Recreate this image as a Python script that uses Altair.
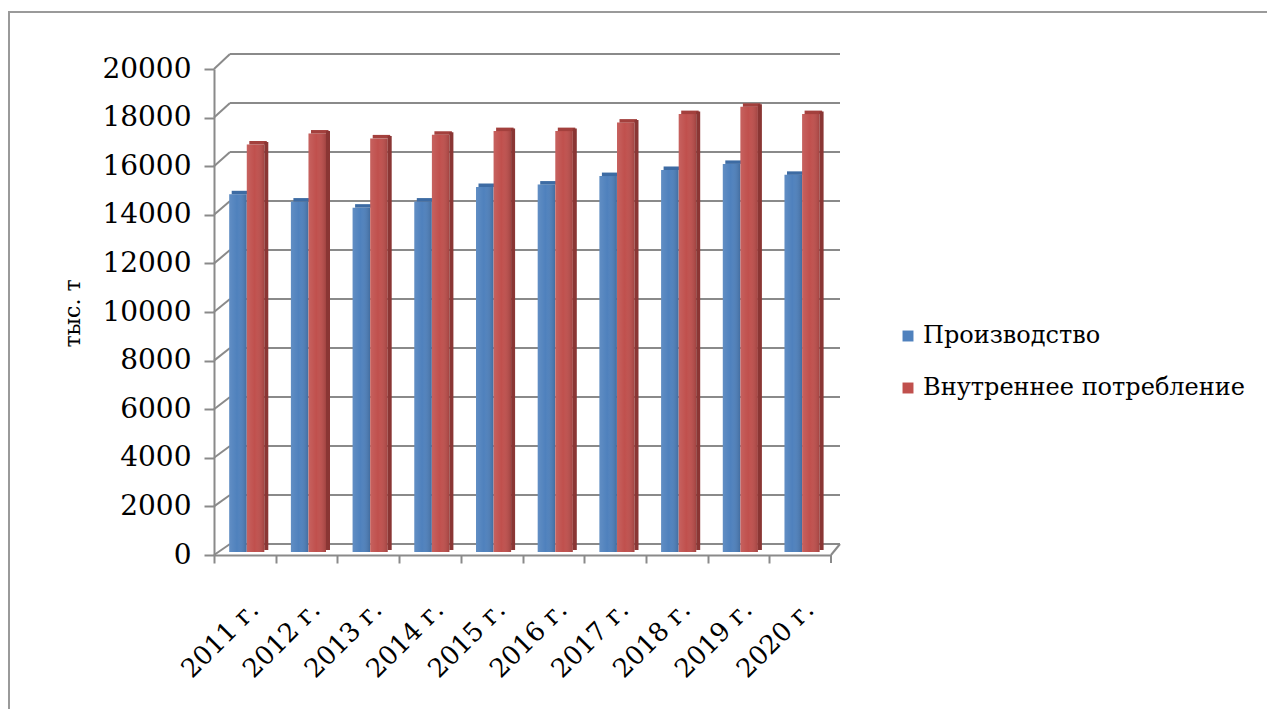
import altair as alt
import pandas as pd

# Production and domestic consumption, thousand tonnes
years = ["2011 г.", "2012 г.", "2013 г.", "2014 г.", "2015 г.",
         "2016 г.", "2017 г.", "2018 г.", "2019 г.", "2020 г."]
production = [14700, 14400, 14150, 14400, 15000, 15100, 15450, 15700, 15950, 15500]
consumption = [16750, 17200, 17000, 17150, 17300, 17300, 17650, 18000, 18300, 18000]
series_names = ["Производство", "Внутреннее потребление"]
tick_values = list(range(0, 20001, 2000))

prod_df = pd.DataFrame({"year": years, "series": series_names[0], "value": production})
cons_df = pd.DataFrame({"year": years, "series": series_names[1], "value": consumption})
grid_df = pd.DataFrame({"value": tick_values})

W, H = 617, 486
BAND = W / len(years)
DEPTH_X = 16          # horizontal shift of the back wall
FONT = "DejaVu Serif"
GRID = "#8a8a8a"
BLUE, RED = "#4F81BD", "#C0504D"
BLUE_TOP, RED_TOP, RED_SIDE = "#3D6BA3", "#A3403D", "#8A3634"
BAR_W = 17.5

X_AXIS = alt.Axis(
    title=None, labelAngle=-45, labelAlign="right", labelBaseline="middle",
    labelFont=FONT, labelFontSize=26, labelColor="black", labelOverlap=False,
    tickSize=8, tickColor=GRID, tickWidth=2, tickOffset=-BAND / 2,
    labelOffset=BAND / 2 + 9, labelPadding=42,
    domainColor=GRID, domainWidth=2, grid=False,
)
Y_AXIS = alt.Axis(
    title="тыс. т", values=tick_values, format="d",
    labelFont=FONT, labelFontSize=28, labelColor="black", labelPadding=13,
    tickSize=10, tickColor=GRID, tickWidth=2,
    domainColor=GRID, domainWidth=2, grid=False,
    titleFont=FONT, titleFontSize=22, titleFontWeight="normal", titleColor="black",
    titleAngle=-90, titleAlign="center", titleBaseline="middle",
    titleX=-142, titleY=244,
)

x_enc = alt.X("year:N", sort=years,
              scale=alt.Scale(domain=years, paddingInner=0, paddingOuter=0),
              axis=X_AXIS)
y_enc = alt.Y("value:Q", scale=alt.Scale(domain=[0, 20000], nice=False), axis=Y_AXIS)
color_enc = alt.Color(
    "series:N",
    scale=alt.Scale(domain=series_names, range=[BLUE, RED]),
    legend=alt.Legend(
        title=None, orient="none", legendX=682, legendY=255, padding=0,
        symbolType="square", symbolSize=120, symbolStrokeWidth=0,
        labelFont=FONT, labelFontSize=24, labelColor="black", labelLimit=0,
        labelOffset=3, rowPadding=28,
    ),
)

layers = []

# Back wall gridlines and the slanted left-wall edges (oblique 3D look)
for v in tick_values:
    depth_y = -(11 + 4 * v / 20000)
    row = grid_df[grid_df["value"] == v]
    layers.append(
        alt.Chart(row).mark_rule(color=GRID, strokeWidth=2, yOffset=depth_y).encode(
            x=alt.value(DEPTH_X), x2=alt.value(W + 9), y=y_enc)
    )
    layers.append(
        alt.Chart(row).mark_rule(color=GRID, strokeWidth=2, y2Offset=depth_y).encode(
            x=alt.value(0), x2=alt.value(DEPTH_X), y=y_enc, y2=alt.Y2("value:Q"))
    )

# Right edge of the floor and the closing category tick
floor = grid_df[grid_df["value"] == 0]
layers.append(
    alt.Chart(floor).mark_rule(color=GRID, strokeWidth=2, y2Offset=-11).encode(
        x=alt.value(W), x2=alt.value(W + 9), y=y_enc, y2=alt.Y2("value:Q"))
)
layers.append(
    alt.Chart(floor).mark_rule(color=GRID, strokeWidth=2, y2Offset=8).encode(
        x=alt.value(W), y=y_enc, y2=alt.Y2("value:Q"))
)

shade = alt.LinearGradient(
    gradient="linear", x1=0, x2=1, y1=0, y2=0,
    stops=[
        alt.GradientStop(color="rgba(255,255,255,0.10)", offset=0),
        alt.GradientStop(color="rgba(255,255,255,0.0)", offset=0.45),
        alt.GradientStop(color="rgba(0,0,0,0.16)", offset=1),
    ],
)


def column(df, dx, top_color, side_color=None):
    """Front face, shading, top cap and (optionally) side face of one series."""
    out = [
        alt.Chart(df).mark_bar(width=BAR_W, xOffset=dx, yOffset=-3.5, y2Offset=-3).encode(
            x=x_enc, y=y_enc, y2=alt.datum(0), color=color_enc),
        alt.Chart(df).mark_bar(width=BAR_W, xOffset=dx, yOffset=-3.5, y2Offset=-3, fill=shade).encode(
            x=x_enc, y=y_enc, y2=alt.datum(0)),
        alt.Chart(df).mark_bar(width=BAR_W, xOffset=dx + 2.5, yOffset=-7, y2Offset=-3.5,
                               color=top_color).encode(
            x=x_enc, y=y_enc, y2=alt.Y2("value:Q")),
    ]
    if side_color:
        out.append(
            alt.Chart(df).mark_bar(width=4, xOffset=dx + BAR_W / 2 + 2, yOffset=-6, y2Offset=-5,
                                   color=side_color).encode(
                x=x_enc, y=y_enc, y2=alt.datum(0))
        )
    return out


layers += column(prod_df, -6.9, BLUE_TOP)
layers += column(cons_df, 10.7, RED_TOP, RED_SIDE)

# Outer frame of the chart area
layers.append(
    alt.Chart(floor).mark_rect(fillOpacity=0, stroke="#9a9a9a", strokeWidth=2).encode(
        x=alt.value(-205), x2=alt.value(1100), y=alt.value(-57), y2=alt.value(700))
)

chart = alt.layer(*layers).properties(
    width=W, height=H,
    autosize=alt.AutoSizeParams(type="none"),
    padding={"left": 214, "top": 69, "right": 1267 - 214 - W, "bottom": 709 - 69 - H},
    background="white",
).configure_view(stroke=None)

chart.save("out.html", embed_options={"renderer": "svg", "actions": False})
